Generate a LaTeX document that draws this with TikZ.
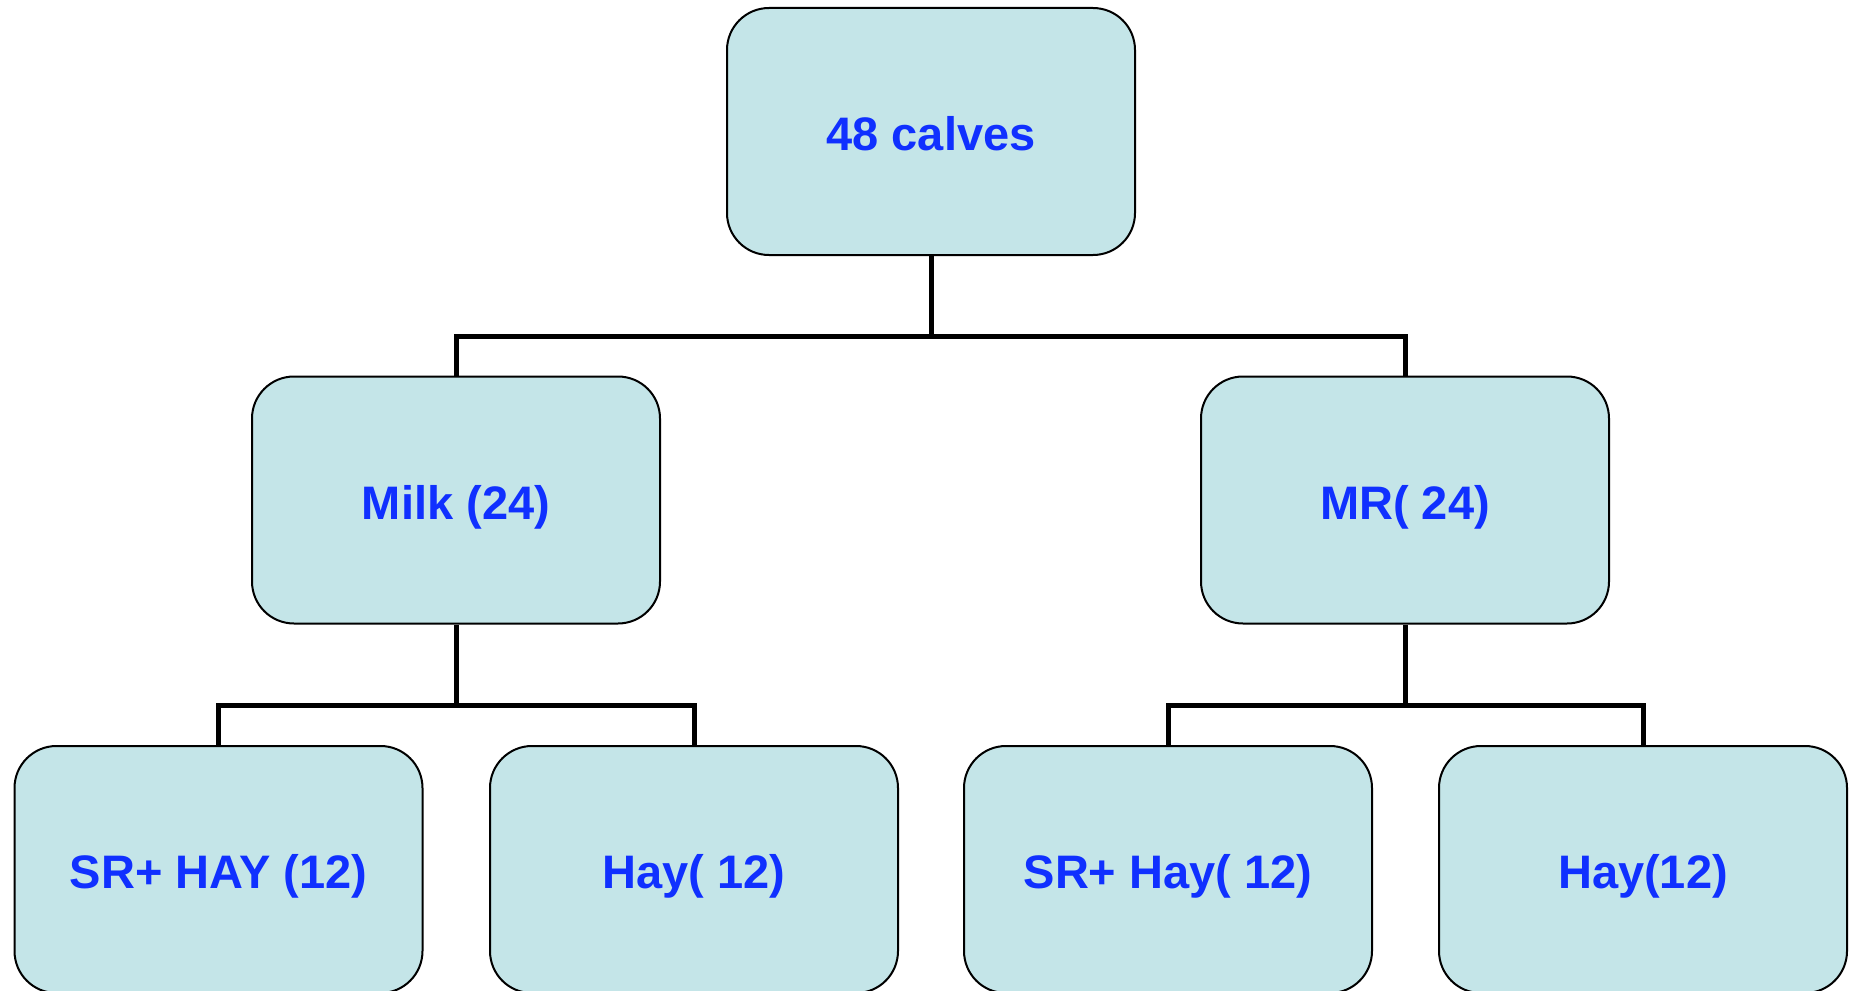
\documentclass[tikz,border=0pt]{standalone}
\usepackage{fontspec}
\setmainfont{Liberation Sans}
\definecolor{boxfill}{RGB}{196,229,232}
\definecolor{txtblue}{RGB}{16,48,255}
\begin{document}
\begin{tikzpicture}[x=1pt,y=-1pt,
  box/.style={draw=black, line width=2pt, fill=boxfill, rounded corners=42pt,
    minimum width=408pt, minimum height=247pt, inner sep=0pt,
    text height=38pt, text depth=0pt,
    text=txtblue, font=\fontsize{47}{56}\selectfont\bfseries},
  conn/.style={draw=black, line width=5pt}]
\useasboundingbox (0,0) rectangle (1854,990);
\node[box] (top) at (931,131.5) {48 calves};
\node[box] (milk) at (456,500) {Milk (24)};
\node[box] (mr) at (1405,500) {MR( 24)};
\node[box] (srhay) at (218.5,869.5) {SR+ HAY (12)};
\node[box] (hay1) at (694,869.5) {Hay( 12)};
\node[box] (srhay2) at (1168,869.5) {SR+ Hay( 12)};
\node[box] (hay2) at (1643,869.5) {Hay(12)};
\coordinate (j1) at (931,336);
\coordinate (j2) at (456,705);
\coordinate (j3) at (1405,705);
\draw[conn] (top.south) -- (j1);
\draw[conn] (j1) -| (milk.north);
\draw[conn] (j1) -| (mr.north);
\draw[conn] (milk.south) -- (j2);
\draw[conn] (j2) -| (srhay.north);
\draw[conn] (j2) -| (hay1.north);
\draw[conn] (mr.south) -- (j3);
\draw[conn] (j3) -| (srhay2.north);
\draw[conn] (j3) -| (hay2.north);
\end{tikzpicture}
\end{document}
